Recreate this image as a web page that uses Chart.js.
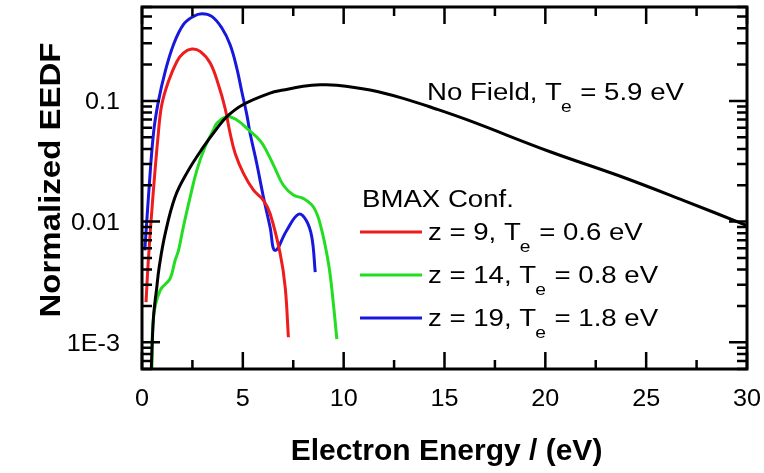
<!DOCTYPE html>
<html>
<head>
<meta charset="utf-8">
<script src="https://cdn.jsdelivr.net/npm/chart.js@4.4.1/dist/chart.umd.min.js"></script>
<style>
html,body{margin:0;padding:0;background:#fff;}
#wrap{width:764px;height:473px;}
</style>
</head>
<body>
<div id="wrap"><canvas id="c" width="764" height="473"></canvas></div>
<script>
// ---- data ----
const noFieldX = [0.46,0.57,0.73,0.85,1.15,1.64,2.22,2.97,3.71,4.21,5.02,6.35,7.01,7.99,8.83,9.66,11.31,12.95,14.62,16.27,20.24,23.55,26.84,29.97];
const noFieldY = [0.00059,0.00161,0.00282,0.00417,0.00794,0.0160,0.0252,0.0398,0.0589,0.0741,0.0933,0.116,0.123,0.132,0.136,0.135,0.123,0.105,0.0853,0.0682,0.0379,0.0243,0.0150,0.00931];

const z9X = [0.20,0.32,0.54,0.81,0.98,1.31,1.73,2.05,2.47,2.88,3.38,3.79,4.12,4.37,4.62,5.03,5.53,6.02,6.35,6.85,7.10,7.26];
const z9Y = [0.00215,0.00495,0.0160,0.0539,0.0927,0.1445,0.212,0.249,0.269,0.257,0.206,0.136,0.0869,0.0539,0.0367,0.0251,0.0182,0.0150,0.01167,0.00545,0.00286,0.00110];

const z14X = [0.49,0.57,0.90,1.39,1.64,1.81,2.05,2.39,2.72,3.13,3.54,3.71,4.21,4.70,5.20,5.86,6.19,6.60,7.01,7.51,8.01,8.50,8.83,9.25,9.49,9.66];
const z14Y = [0.00059,0.00161,0.00269,0.00336,0.00476,0.00577,0.00902,0.0160,0.0267,0.0417,0.0574,0.0653,0.0741,0.0695,0.0593,0.0468,0.0380,0.0275,0.0200,0.0166,0.0155,0.0132,0.00962,0.00448,0.00208,0.00106];

const z19X = [0.14,0.32,0.57,0.81,1.15,1.56,2.05,2.55,2.97,3.46,3.96,4.37,4.70,4.95,5.20,5.36,5.69,6.02,6.35,6.60,7.18,7.76,8.14,8.42,8.59];
const z19Y = [0.00577,0.0160,0.0539,0.0986,0.175,0.292,0.429,0.502,0.528,0.502,0.402,0.292,0.187,0.119,0.0766,0.0539,0.0303,0.0160,0.00902,0.00577,0.00847,0.0115,0.01026,0.00745,0.00381];

const xTickValues = [0,5,10,15,20,25,30];
const xTickLabels = ['0','5','10','15','20','25','30'];
const yTickValues = [0.1,0.01,0.001];
const yTickLabels = ['0.1','0.01','1E-3'];

const xTitle = 'Electron Energy / (eV)';
const yTitle = 'Normalized EEDF';
const noFieldLabel = ['No Field, T','e',' = 5.9 eV'];
const legendTitle = 'BMAX Conf.';
const seriesLabels = [
  ['z = 9, T','e',' = 0.6 eV'],
  ['z = 14, T','e',' = 0.8 eV'],
  ['z = 19, T','e',' = 1.8 eV']
];
const seriesColors = ['#ee1c1c','#22dd22','#1818dd'];

// ---- chart ----
function pts(xs, ys){ return xs.map((x,i)=>({x:x, y:ys[i]})); }
const FONT = '"Liberation Sans", Arial, sans-serif';

function sText(ctx, str, x, y, font, sx, align){
  ctx.save();
  ctx.font = font;
  const w = ctx.measureText(str).width * sx;
  ctx.translate(x, y);
  ctx.scale(sx, 1);
  ctx.textAlign = align || 'left';
  ctx.fillText(str, 0, 0);
  ctx.restore();
  return w;
}
function richText(ctx, parts, x, y, size, sx){
  let cx = x;
  cx += sText(ctx, parts[0], cx, y, size + 'px ' + FONT, sx, 'left');
  const sw = sText(ctx, parts[1], cx - 1, y + 12, Math.round(size*0.7) + 'px ' + FONT, sx, 'left');
  cx += sw;
  sText(ctx, parts[2], cx, y, size + 'px ' + FONT, sx, 'left');
}

const framePlugin = {
  id: 'frame',
  afterDraw(chart){
    const ctx = chart.ctx, a = chart.chartArea;
    const xs = chart.scales.x, ys = chart.scales.y;
    ctx.save();
    ctx.strokeStyle = '#000';
    ctx.fillStyle = '#000';
    ctx.lineWidth = 2.5;
    for (let v = 0; v <= 30.001; v += 2.5){
      const px = xs.getPixelForValue(v);
      const major = Math.abs(v/5 - Math.round(v/5)) < 1e-6;
      const len = major ? 17 : 9;
      ctx.beginPath();
      ctx.moveTo(px, a.bottom); ctx.lineTo(px, a.bottom - len);
      ctx.moveTo(px, a.top); ctx.lineTo(px, a.top + len);
      ctx.stroke();
    }
    for (let e = -4; e <= 0; e++){
      for (let m = 1; m <= 9; m++){
        const v = m * Math.pow(10, e);
        if (v < ys.min*0.999 || v > ys.max*1.001) continue;
        const py = ys.getPixelForValue(v);
        const len = m === 1 ? 18 : 10;
        ctx.beginPath();
        ctx.moveTo(a.left, py); ctx.lineTo(a.left + len, py);
        ctx.moveTo(a.right, py); ctx.lineTo(a.right - len, py);
        ctx.stroke();
      }
    }
    ctx.lineWidth = 3;
    ctx.strokeRect(a.left, a.top, a.right - a.left, a.bottom - a.top);

    ctx.textBaseline = 'alphabetic';
    xTickValues.forEach((v,i)=>{
      sText(ctx, xTickLabels[i], xs.getPixelForValue(v), a.bottom + 37, '24px ' + FONT, 1.05, 'center');
    });
    yTickValues.forEach((v,i)=>{
      sText(ctx, yTickLabels[i], a.left - 22, ys.getPixelForValue(v) + 8.5, '24px ' + FONT, 1.05, 'right');
    });
    sText(ctx, xTitle, (a.left + a.right)/2 + 2, 460, 'bold 30px ' + FONT, 1.0, 'center');
    ctx.save();
    ctx.translate(60, 180);
    ctx.rotate(-Math.PI/2);
    sText(ctx, yTitle, 0, 0, 'bold 30px ' + FONT, 1.1, 'center');
    ctx.restore();

    richText(ctx, noFieldLabel, 427, 100, 23, 1.2);
    sText(ctx, legendTitle, 362, 207, '23px ' + FONT, 1.2, 'left');
    const rowY = [232, 275, 318];
    chart.data.datasets.slice(1).forEach((ds, i)=>{
      ctx.strokeStyle = ds.borderColor;
      ctx.lineWidth = 3;
      ctx.beginPath();
      ctx.moveTo(360, rowY[i]); ctx.lineTo(422, rowY[i]);
      ctx.stroke();
      ctx.fillStyle = '#000';
      richText(ctx, seriesLabels[i], 428, rowY[i] + 8, 23, 1.2);
    });
    ctx.restore();
  }
};

const common = { fill:false, pointRadius:0, borderWidth:3, tension:0.4 };

new Chart(document.getElementById('c'), {
  type: 'line',
  data: {
    datasets: [
      Object.assign({ label:'No Field', data: pts(noFieldX, noFieldY), borderColor:'#000000' }, common),
      Object.assign({ label:'z = 9',  data: pts(z9X, z9Y),   borderColor: seriesColors[0] }, common),
      Object.assign({ label:'z = 14', data: pts(z14X, z14Y), borderColor: seriesColors[1] }, common),
      Object.assign({ label:'z = 19', data: pts(z19X, z19Y), borderColor: seriesColors[2] }, common)
    ]
  },
  options: {
    responsive: false,
    animation: false,
    events: [],
    layout: { padding: { left:142, right:17, top:7, bottom:104 } },
    plugins: { legend:{display:false}, tooltip:{enabled:false}, title:{display:false} },
    scales: {
      x: { type:'linear', min:0, max:30, display:false },
      y: { type:'logarithmic', min:0.0006, max:0.6, display:false }
    }
  },
  plugins: [framePlugin]
});
</script>
</body>
</html>
